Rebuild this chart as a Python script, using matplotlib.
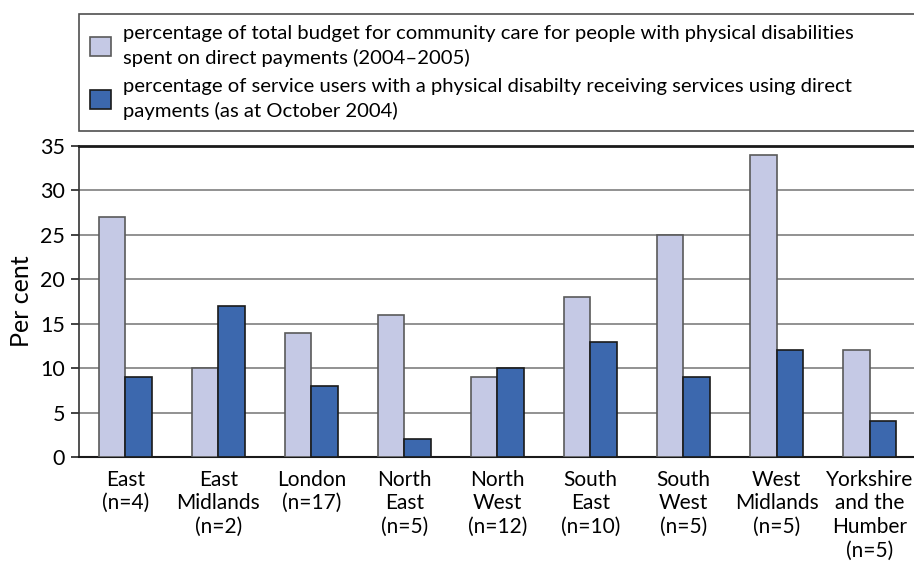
import matplotlib.pyplot as plt
import numpy as np

regions = ["East\n(n=4)", "East\nMidlands\n(n=2)", "London\n(n=17)", "North\nEast\n(n=5)",
           "North\nWest\n(n=12)", "South\nEast\n(n=10)", "South\nWest\n(n=5)",
           "West\nMidlands\n(n=5)", "Yorkshire\nand the\nHumber\n(n=5)"]
budget_pct = [27, 10, 14, 16, 9, 18, 25, 34, 12]
users_pct = [9, 17, 8, 2, 10, 13, 9, 12, 4]

label_budget = "percentage of total budget for community care for people with physical disabilities\nspent on direct payments (2004\u20132005)"
label_users = "percentage of service users with a physical disabilty receiving services using direct\npayments (as at October 2004)"

plt.rcParams['font.family'] = ['Lato', 'DejaVu Sans']

fig = plt.figure(figsize=(9.14, 5.62), dpi=100)
ax = fig.add_axes([0.0864, 0.1868, 0.9158, 0.5534])

x = np.arange(len(regions))
w = 0.29
b1 = ax.bar(x - w / 2, budget_pct, w, color='#C5C9E5', edgecolor='#5a5a5a', linewidth=1.2,
            label=label_budget, zorder=3)
b2 = ax.bar(x + w / 2, users_pct, w, color='#3C68AE', edgecolor='#1a1a1a', linewidth=1.2,
            label=label_users, zorder=3)

ax.set_xlim(-0.5, 8.5)
ax.set_ylim(0, 35)
ax.set_yticks(range(0, 36, 5))
ax.set_xticks(x)
ax.set_xticklabels(regions, fontsize=15, va='top')
for lbl in ax.get_xticklabels():
    lbl.set_linespacing(1.24)
ax.tick_params(axis='x', length=0, pad=9)
ax.tick_params(axis='y', labelsize=15.5, length=6, width=1.2, color='#222222', pad=4)
for yv in range(5, 35, 5):
    ax.axhline(yv, color='#7f7f7f', linewidth=1.2, zorder=1)

ax.spines['right'].set_visible(False)
ax.spines['top'].set_linewidth(2)
ax.spines['top'].set_color('#1a1a1a')
ax.spines['left'].set_linewidth(1.2)
ax.spines['left'].set_color('#333333')
ax.spines['bottom'].set_linewidth(1.5)
ax.spines['bottom'].set_color('#1a1a1a')
ax.set_ylabel("Per cent", fontsize=18, labelpad=5)

leg = fig.legend(handles=[b1, b2], loc='upper left',
                 bbox_to_anchor=(79 / 914, 1 - 14 / 562, 0.93, 0), mode='expand',
                 fontsize=14.6, frameon=True, fancybox=False, edgecolor='#222222',
                 handlelength=1.05, handleheight=1.05, handletextpad=0.55,
                 labelspacing=0.55, borderpad=0.55, borderaxespad=0)
leg.get_frame().set_linewidth(1.2)
for t in leg.get_texts():
    t.set_linespacing(1.45)

fig.savefig('out.png', dpi=100)
